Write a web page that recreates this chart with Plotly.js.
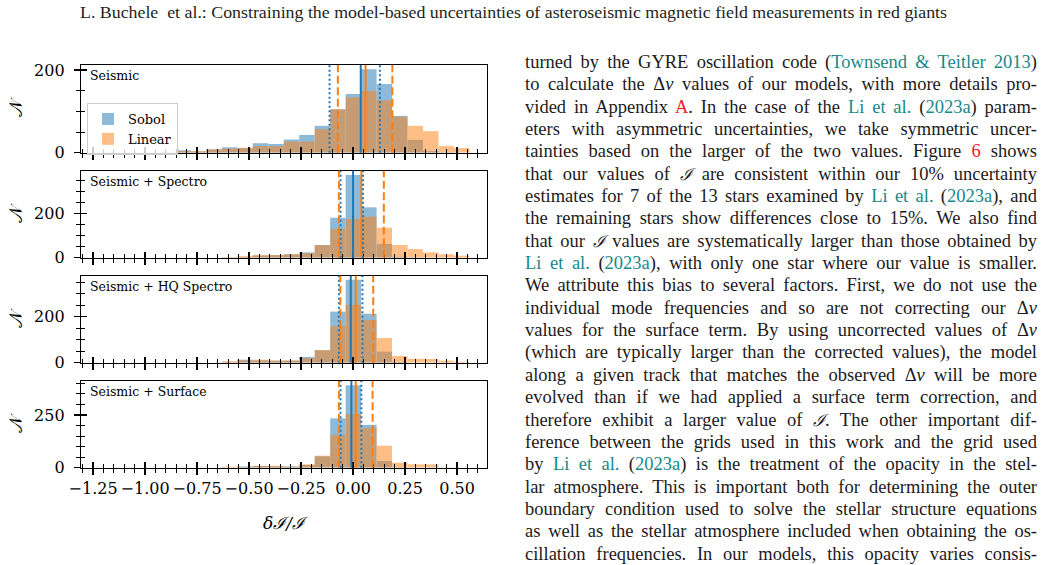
<!DOCTYPE html>
<html>
<head>
<meta charset="utf-8">
<script src="https://cdn.plot.ly/plotly-3.0.1.min.js"></script>
<style>
html,body{margin:0;padding:0;background:#fff;}
#wrap{position:relative;width:1043px;height:565px;overflow:hidden;background:#fff;}
#chart{position:absolute;left:0;top:0;width:1043px;height:565px;}
#header{position:absolute;left:80px;top:4px;white-space:nowrap;font-family:'Liberation Serif','DejaVu Serif',serif;font-size:16px;color:#231f20;transform-origin:0 0;}
#body{position:absolute;left:525px;top:51px;width:512px;font-family:'Liberation Serif','DejaVu Serif',serif;font-size:18.5px;color:#1d1a1b;}
.ln{height:22.35px;line-height:22.35px;white-space:nowrap;}
.c{color:#17898a;}
.r{color:#ec1c24;}
.m{font-family:'DejaVu Serif',serif;font-style:italic;font-size:0.9em;}
</style>
</head>
<body>
<div id="wrap">
  <div id="chart"></div>
  <div id="header"></div>
  <div id="body"></div>
</div>
<script>
// ---------- DATA ----------
const binCenters = [-1.1888, -1.1144, -1.0400, -0.9656, -0.8912, -0.8168, -0.7424, -0.6680,
                    -0.5936, -0.5192, -0.4448, -0.3704, -0.2960, -0.2216, -0.1472, -0.0728,
                     0.0016,  0.0760,  0.1504,  0.2248,  0.2992,  0.3736,  0.4480,  0.5224];
const binWidth = 0.0744;

const panelNames = ['Seismic', 'Seismic + Spectro', 'Seismic + HQ Spectro', 'Seismic + Surface'];

const sobolSeismic   = [2,1,1,1,2,6,3,8,13,11,23,21,32,43,65,105,142,202,166,89,31,4,1,0];
const linearSeismic  = [0,0,0,0,1,4,4,8,10,12,16,16,27,27,57,105,134,149,127,87,65,52,16,11];
const sobolSpectro   = [0,0,0,0,0,0,0,0,1,3,10,12,15,24,57,180,373,227,62,4,1,0,0,0];
const linearSpectro  = [0,0,0,0,0,0,0,0,3,8,12,12,16,20,57,129,174,185,135,57,39,24,15,9];
const sobolHQ        = [0,0,0,0,0,0,0,0,2,13,10,9,9,25,54,222,360,213,48,3,0,0,0,0];
const linearHQ       = [0,0,0,0,0,0,0,0,7,10,13,9,10,20,55,159,252,186,107,29,17,16,9,4];
const sobolSurface   = [0,0,0,0,0,0,0,0,1,6,8,7,6,13,54,234,391,203,32,2,0,0,0,0];
const linearSurface  = [0,0,0,0,0,0,0,0,5,3,9,9,5,16,57,155,255,187,104,24,16,16,2,0];

const sobolMedian  = [0.037, 0.000, -0.011, -0.008];
const sobolLow     = [-0.113, -0.060, -0.068, -0.060];
const sobolHigh    = [0.129, 0.048, 0.045, 0.040];
const linearMedian = [0.060, 0.040, 0.013, 0.013];
const linearLow    = [-0.073, -0.068, -0.061, -0.068];
const linearHigh   = [0.189, 0.148, 0.097, 0.094];

const yMaxima   = [212, 392, 378, 411];
const yTickStep = [200, 200, 200, 250];

const headerText = 'L. Buchele&nbsp; et al.: Constraining the model-based uncertainties of asteroseismic magnetic field measurements in red giants';

const bodyLines = [
  'turned by the GYRE oscillation code (<span class="c">Townsend &amp; Teitler 2013</span>)',
  'to calculate the Δ<i>ν</i> values of our models, with more details pro-',
  'vided in Appendix <span class="r">A</span>. In the case of the <span class="c">Li et al.</span> (<span class="c">2023a</span>) param-',
  'eters with asymmetric uncertainties, we take symmetric uncer-',
  'tainties based on the larger of the two values. Figure <span class="r">6</span> shows',
  'that our values of <span class="m">ℐ</span> are consistent within our 10% uncertainty',
  'estimates for 7 of the 13 stars examined by <span class="c">Li et al.</span> (<span class="c">2023a</span>), and',
  'the remaining stars show differences close to 15%. We also find',
  'that our <span class="m">ℐ</span> values are systematically larger than those obtained by',
  '<span class="c">Li et al.</span> (<span class="c">2023a</span>), with only one star where our value is smaller.',
  'We attribute this bias to several factors. First, we do not use the',
  'individual mode frequencies and so are not correcting our Δ<i>ν</i>',
  'values for the surface term. By using uncorrected values of Δ<i>ν</i>',
  '(which are typically larger than the corrected values), the model',
  'along a given track that matches the observed Δ<i>ν</i> will be more',
  'evolved than if we had applied a surface term correction, and',
  'therefore exhibit a larger value of <span class="m">ℐ</span>. The other important dif-',
  'ference between the grids used in this work and the grid used',
  'by <span class="c">Li et al.</span> (<span class="c">2023a</span>) is the treatment of the opacity in the stel-',
  'lar atmosphere. This is important both for determining the outer',
  'boundary condition used to solve the stellar structure equations',
  'as well as the stellar atmosphere included when obtaining the os-',
  'cillation frequencies. In our models, this opacity varies consis-',
  'tently with the local temperature and pressure. <span class="c">Li et al.</span> (<span class="c">2023a</span>)'
];

// ---------- CHART ----------
const sobolSets  = [sobolSeismic, sobolSpectro, sobolHQ, sobolSurface];
const linearSets = [linearSeismic, linearSpectro, linearHQ, linearSurface];
const BLUE = '#1f77b4', ORANGE = '#ff7f0e';
const W = 1043, H = 565;
const xDom = [81 / W, 487 / W];
const panelPx = [[65, 152.7], [170.7, 257.7], [275.7, 362.7], [381, 467.7]];
const xRange = [-1.308, 0.644];
const FONT = 'DejaVu Serif';

const traces = [];
const shapes = [];
const annotations = [];
const layout = {
  width: W, height: H,
  margin: {l: 0, r: 0, t: 0, b: 0},
  paper_bgcolor: 'rgba(0,0,0,0)',
  plot_bgcolor: 'rgba(0,0,0,0)',
  barmode: 'overlay',
  showlegend: true,
  hovermode: false,
  legend: {
    x: 87 / W, y: (H - 103) / H, xanchor: 'left', yanchor: 'top',
    bgcolor: 'rgba(255,255,255,0.8)', bordercolor: '#cccccc', borderwidth: 1,
    font: {family: FONT, size: 13, color: '#000'}, tracegroupgap: 0
  },
  font: {family: FONT, color: '#000'}
};

for (let k = 0; k < 4; k++) {
  const n = k + 1, o = k + 5;
  const xa = 'x' + n, ya = 'y' + n;
  traces.push({
    type: 'bar', x: binCenters, y: sobolSets[k], width: binWidth,
    xaxis: xa, yaxis: ya, name: 'Sobol', marker: {color: BLUE, line: {width: 0}},
    opacity: 0.5, showlegend: k === 0, legendgroup: 'sobol'
  });
  traces.push({
    type: 'bar', x: binCenters, y: linearSets[k], width: binWidth,
    xaxis: xa, yaxis: ya, name: 'Linear', marker: {color: ORANGE, line: {width: 0}},
    opacity: 0.5, showlegend: k === 0, legendgroup: 'linear'
  });
  traces.push({type: 'scatter', x: [null], y: [null], xaxis: 'x' + o, yaxis: 'y' + o,
               showlegend: false, hoverinfo: 'skip'});

  const top = panelPx[k][0], bot = panelPx[k][1];
  const yDom = [(H - bot) / H, (H - top) / H];

  const tickCommon = {tickcolor: '#000', tickwidth: 1.2, ticklen: 6, showgrid: false, zeroline: false};
  layout['xaxis' + n] = Object.assign({}, tickCommon, {
    domain: xDom, range: xRange, anchor: ya,
    showline: true, mirror: true, linecolor: '#000', linewidth: 1.2,
    ticks: 'outside', tickmode: 'linear', tick0: 0, dtick: 0.25, tickformat: '.2f',
    showticklabels: k === 3,
    tickfont: {family: FONT, size: 16, color: '#000'},
    minor: {ticks: 'outside', tick0: 0, dtick: 0.05, ticklen: 4, tickwidth: 1, tickcolor: '#000', showgrid: false}
  });
  layout['yaxis' + n] = Object.assign({}, tickCommon, {
    domain: yDom, range: [0, yMaxima[k]], anchor: xa,
    showline: true, mirror: true, linecolor: '#000', linewidth: 1.2,
    ticks: 'outside', tickmode: 'linear', tick0: 0, dtick: yTickStep[k],
    tickfont: {family: FONT, size: 16, color: '#000'},
    ticklabelstandoff: 6,
    title: {text: '𝒩', font: {family: FONT, size: 18, color: '#000'}, standoff: 6},
    minor: {ticks: 'outside', tick0: 0, dtick: 50, ticklen: 4, tickwidth: 1, tickcolor: '#000', showgrid: false}
  });
  layout['xaxis' + o] = Object.assign({}, tickCommon, {
    overlaying: xa, anchor: 'y' + o, range: xRange,
    ticks: 'inside', tickmode: 'linear', tick0: 0, dtick: 0.25,
    showticklabels: false, showline: false,
    minor: {ticks: 'inside', tick0: 0, dtick: 0.05, ticklen: 4, tickwidth: 1, tickcolor: '#000', showgrid: false}
  });
  layout['yaxis' + o] = Object.assign({}, tickCommon, {
    overlaying: ya, anchor: 'x' + o, range: [0, yMaxima[k]],
    ticks: 'inside', tickmode: 'linear', tick0: 0, dtick: yTickStep[k],
    showticklabels: false, showline: false,
    minor: {ticks: 'inside', tick0: 0, dtick: 50, ticklen: 4, tickwidth: 1, tickcolor: '#000', showgrid: false}
  });

  const vline = (v, color, dash) => ({
    type: 'line', xref: xa, yref: ya + ' domain', x0: v, x1: v, y0: 0, y1: 1,
    line: {color: color, width: 2, dash: dash}, layer: 'above'
  });
  shapes.push(vline(sobolMedian[k], BLUE, 'solid'));
  shapes.push(vline(linearMedian[k], ORANGE, 'solid'));
  shapes.push(vline(sobolLow[k], BLUE, '2px,2.5px'));
  shapes.push(vline(sobolHigh[k], BLUE, '2px,2.5px'));
  shapes.push(vline(linearLow[k], ORANGE, '8px,3.5px'));
  shapes.push(vline(linearHigh[k], ORANGE, '8px,3.5px'));

  annotations.push({
    xref: xa + ' domain', yref: ya + ' domain', x: 0.018, y: 0.99,
    xanchor: 'left', yanchor: 'top', showarrow: false, text: panelNames[k],
    font: {family: FONT, size: 12.5, color: '#000'}
  });
}
layout.xaxis4.title = {text: '<i>δℐ/ℐ</i>', font: {family: FONT, size: 17, color: '#000'}, standoff: 20};
layout.shapes = shapes;
layout.annotations = annotations;

Plotly.newPlot('chart', traces, layout, {staticPlot: true, displayModeBar: false});

// ---------- TEXT ----------
const header = document.getElementById('header');
header.innerHTML = headerText;
const hw = header.getBoundingClientRect().width;
header.style.transform = 'scaleX(' + (867 / hw) + ')';

const body = document.getElementById('body');
const colW = 512;
bodyLines.forEach(function (html) {
  const d = document.createElement('div');
  d.className = 'ln';
  const s = document.createElement('span');
  s.innerHTML = html;
  d.appendChild(s);
  body.appendChild(d);
  const w = s.getBoundingClientRect().width;
  const spaces = (s.textContent.match(/ /g) || []).length;
  if (spaces > 0) {
    d.style.wordSpacing = ((colW - w) / spaces) + 'px';
  }
});
</script>
</body>
</html>
